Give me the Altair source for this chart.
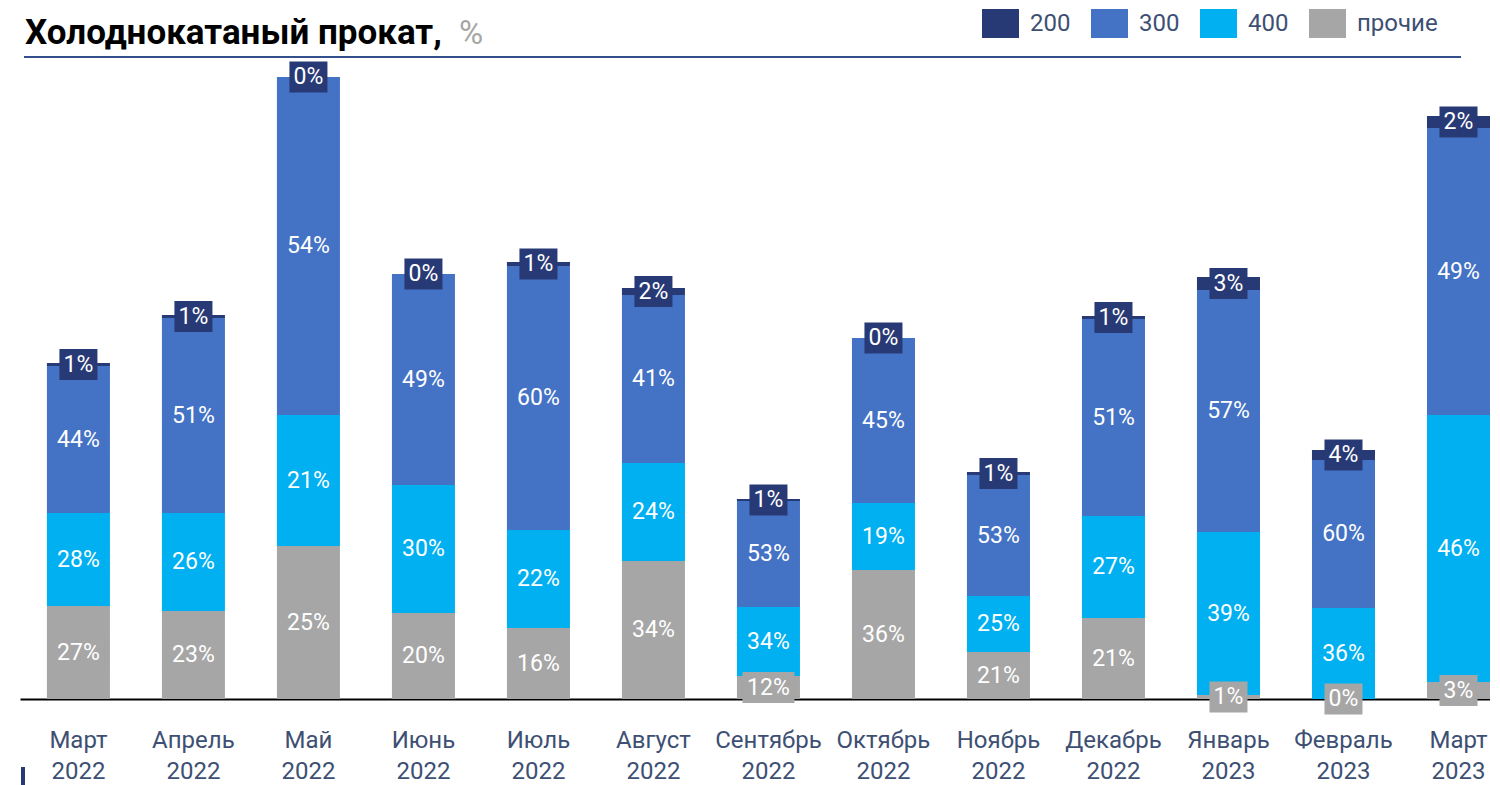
import altair as alt
import pandas as pd

months = ["Март 2022", "Апрель 2022", "Май 2022", "Июнь 2022", "Июль 2022",
          "Август 2022", "Сентябрь 2022", "Октябрь 2022", "Ноябрь 2022",
          "Декабрь 2022", "Январь 2023", "Февраль 2023", "Март 2023"]

# segment sizes (relative volume)
v_other = [93, 88, 153, 86, 71, 138, 23, 129, 47, 81, 4, 0, 17]
v_400 = [93, 98, 131, 128, 98, 98, 69, 67, 56, 102, 163, 91, 267]
v_300 = [147, 195, 338, 211, 264, 168, 106, 165, 121, 197, 242, 148, 287]
v_200 = [3, 3, 0, 0, 4, 7, 2, 0, 3, 3, 13, 10, 12]

# printed shares, %
p_other = [27, 23, 25, 20, 16, 34, 12, 36, 21, 21, 1, 0, 3]
p_400 = [28, 26, 21, 30, 22, 24, 34, 19, 25, 27, 39, 36, 46]
p_300 = [44, 51, 54, 49, 60, 41, 53, 45, 53, 51, 57, 60, 49]
p_200 = [1, 1, 0, 0, 1, 2, 1, 0, 1, 1, 3, 4, 2]

series_names = ["200", "300", "400", "прочие"]
series_colors = ["#283a76", "#4472c4", "#00b0f0", "#a6a6a6"]

rows = []
for i, m in enumerate(months):
    for name, vals, pcts, order in [("прочие", v_other, p_other, 0),
                                    ("400", v_400, p_400, 1),
                                    ("300", v_300, p_300, 2),
                                    ("200", v_200, p_200, 3)]:
        lab = f"{pcts[i]}%"
        rows.append({"month": m, "series": name, "value": vals[i],
                     "label": lab, "order": order,
                     "boxk": "short" if len(lab) <= 2 else "long"})
df = pd.DataFrame(rows)

FONT = "Roboto"
TXT = "#3d5073"

xscale = alt.Scale(domain=months, paddingInner=0.452, paddingOuter=0.117, align=1.0)
yscale = alt.Scale(domain=[0, 639])
cscale = alt.Scale(domain=series_names, range=series_colors)

x_axis = alt.X("month:N", sort=months, scale=xscale,
               axis=alt.Axis(title=None, labelAngle=0,
                             labelExpr="split(datum.label, ' ')",
                             labelFont=FONT, labelFontSize=24, labelColor=TXT,
                             labelLineHeight=31, labelPadding=29,
                             labelBaseline="top",
                             ticks=False, domainColor="black", domainWidth=2,
                             labelOverlap=False, grid=False))

legend_rect = "M-1.276,-1H1.276V1H-1.276Z"

base = alt.Chart(df)

bars = base.mark_bar().encode(
    x=x_axis,
    y=alt.Y("value:Q", stack="zero", scale=yscale, axis=None),
    color=alt.Color("series:N", scale=cscale,
                    legend=alt.Legend(title=None, orient="none", legendX=966, legendY=-51,
                                      direction="horizontal", columns=4,
                                      symbolType=legend_rect, symbolSize=841,
                                      symbolStrokeWidth=0, symbolOpacity=1,
                                      labelFont=FONT, labelFontSize=24, labelColor=TXT,
                                      labelOffset=15, columnPadding=19, padding=0)),
    order=alt.Order("order:Q"),
)

lab_base = base.transform_stack(
    stack="value", groupby=["month"],
    sort=[alt.SortField("order", order="ascending")], as_=["y0", "y1"]
).transform_calculate(mid="(datum.y0 + datum.y1) / 2")

box_short = "M-0.731,-0.596H0.731V0.596H-0.731Z"
box_long = "M-1,-0.596H1V0.596H-1Z"

boxes = lab_base.mark_point(filled=True, opacity=1, strokeWidth=0, size=2704).encode(
    x=x_axis,
    y=alt.Y("mid:Q", scale=yscale, axis=None),
    color=alt.Color("series:N", scale=cscale, legend=None),
    shape=alt.Shape("boxk:N", scale=alt.Scale(domain=["short", "long"],
                                              range=[box_short, box_long]), legend=None),
)

texts = lab_base.mark_text(color="white", font=FONT, fontSize=23,
                           baseline="middle", align="center").encode(
    x=x_axis,
    y=alt.Y("mid:Q", scale=yscale, axis=None),
    text="label:N",
)

title1 = alt.Chart(pd.DataFrame({"t": ["Холоднокатаный прокат,"]})).mark_text(
    font=FONT, fontSize=35, fontWeight="bold", color="black",
    align="left", baseline="alphabetic").encode(
    x=alt.value(5), y=alt.value(-16), text="t:N")

title2 = alt.Chart(pd.DataFrame({"t": ["%"]})).mark_text(
    font=FONT, fontSize=33, color="#a6a6a6",
    align="left", baseline="alphabetic").encode(
    x=alt.value(439), y=alt.value(-16), text="t:N")

deco = pd.DataFrame({"a": [0]})
underline = alt.Chart(deco).mark_rule(color="#34508c", strokeWidth=2).encode(
    x=alt.value(4), x2=alt.value(1441), y=alt.value(-3))
tick_bot = alt.Chart(deco).mark_rule(color="#283a76", strokeWidth=4).encode(
    x=alt.value(3), y=alt.value(707), y2=alt.value(725))

chart = alt.layer(bars, boxes, texts, title1, title2, underline, tick_bot).properties(
    width=1470, height=639,
    padding={"left": 12, "top": 1, "right": 0, "bottom": 0},
).configure_view(stroke=None)

chart.save("out.html", embed_options={"renderer": "svg", "actions": False})
